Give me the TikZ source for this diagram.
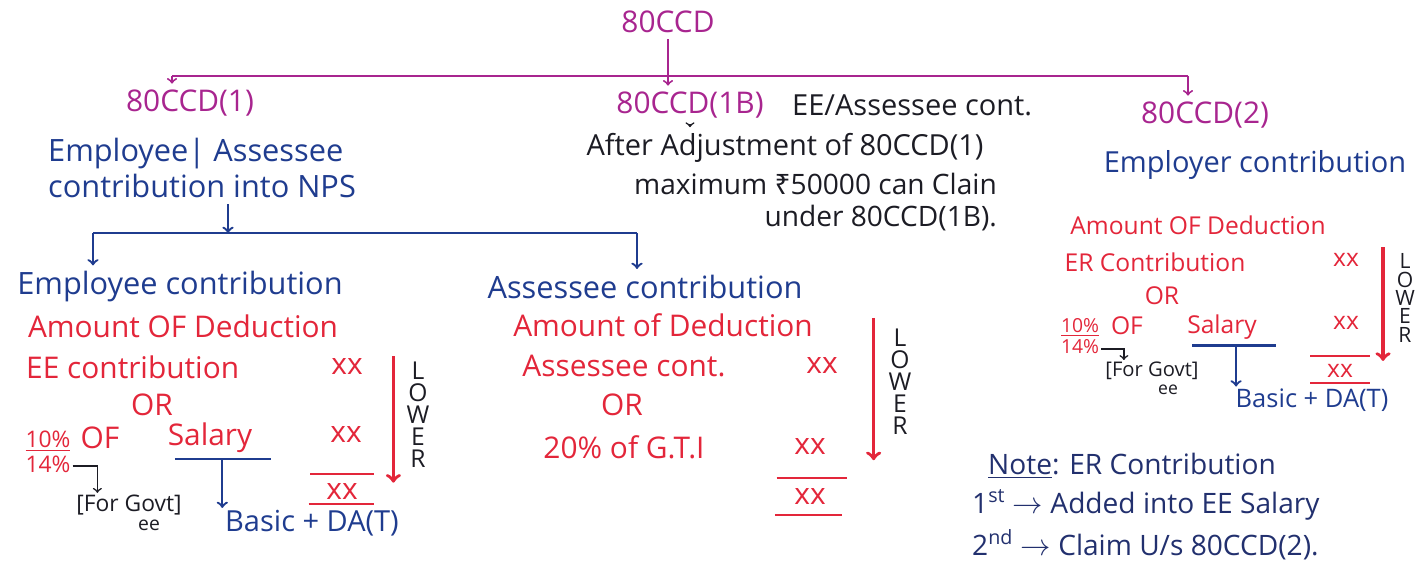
\documentclass[tikz,border=0pt]{standalone}
\usepackage{fontspec}
\setmainfont{Open Sans}
\newfontfamily\rupeefont{Noto Sans}
\usetikzlibrary{positioning}

\definecolor{sectpink}{HTML}{A8258F}
\definecolor{npsblue}{HTML}{1F3C8F}
\definecolor{dedred}{HTML}{E3263A}
\definecolor{inkblack}{HTML}{1C1C24}
\definecolor{noteblue}{HTML}{22306E}

\tikzset{
  sec/.style={text=sectpink, font=\fontsize{17}{20}\selectfont},
  head/.style={text=npsblue, font=\fontsize{17.5}{21}\selectfont},
  calc/.style={text=dedred, font=\fontsize{17}{20}\selectfont},
  calcsm/.style={text=dedred, font=\fontsize{14}{17}\selectfont},
  remark/.style={text=inkblack, font=\fontsize{16.5}{19}\selectfont},
  govt/.style={text=inkblack, font=\fontsize{13}{15}\selectfont, inner sep=1pt},
  lowword/.style={text=inkblack, align=center, font=\fontsize{14}{12.5}\selectfont},
  notetext/.style={text=noteblue, font=\fontsize{16}{19}\selectfont, anchor=west},
  pinkline/.style={color=sectpink, line width=1.1pt},
  blueline/.style={color=npsblue, line width=1.3pt},
  redline/.style={draw=dedred, line width=1.2pt},
  lowarrow/.style={draw=dedred, line width=2pt, ->}
}

\begin{document}
\begin{tikzpicture}[x=0.02cm, y=-0.02cm]
\useasboundingbox (0,0) rectangle (1428,567);

% sections
\node[sec] at (668,22) (ccd) {80CCD};
\node[sec] at (190,103) (ccdone) {80CCD(1)};
\node[sec] at (690,105) (ccdoneb) {80CCD(1B)};
\node[remark, anchor=west] at (786,105) (eecont) {EE/Assessee cont.};
\node[sec] at (1205,115) (ccdtwo) {80CCD(2)};

\coordinate (busL) at (172,76);
\coordinate (busR) at (1188,76);
\draw[pinkline] (busL) -- (busR);
\path[pinkline, ->]
    (ccd) edge (ccd |- ccdoneb.north)
    (busL) edge (busL |- ccdone.north)
    (busR) edge (busR |- ccdtwo.north);

% 80CCD(1)
\node[head, align=left, anchor=west] at (42,168) (nps) {Employee| Assessee\\contribution into NPS};
\coordinate (split) at (228,233);
\coordinate (bbusL) at (93,233);
\coordinate (bbusR) at (637,233);
\draw[blueline] (bbusL) -- (bbusR);
\draw[blueline, ->] (split |- nps.south) -- (split);

\node[head] at (180,287) (empc) {Employee contribution};
\node[head] at (645,287) (assc) {Assessee contribution};
\path[blueline, ->]
    (bbusL) edge (bbusL |- empc.north)
    (bbusR) edge (bbusR |- assc.north);

\node[calc] at (183,326) (amtone) {Amount OF Deduction};
\node[calc, anchor=west] at (20,367) (eec) {EE contribution};
\node[calc] at (347,367) (xaone) {xx};
\node[calc] at (152,405) (orone) {OR};
\node[calc, font=\fontsize{13}{14}\selectfont, align=center, inner sep=1pt] at (48,452) (fracone) {\underline{10\%}\\14\%};
\node[calc] at (100,438) (ofone) {OF};
\node[calc] at (210,438) (salone) {Salary};
\node[calc] at (346,435) (xbone) {xx};
\node[calc, inner sep=1pt] at (342,492) (xtone) {xx};
\draw[redline] ([xshift=-18pt,yshift=10pt]xtone.center) -- ([xshift=18pt,yshift=10pt]xtone.center);
\draw[redline] ([xshift=-19pt,yshift=-7pt]xtone.center) -- ([xshift=18pt,yshift=-7pt]xtone.center);
\node[govt] at (129,505) (govtone) {[For Govt]};
\node[govt, font=\fontsize{11}{12}\selectfont] at (149,525) (govteeone) {ee};
\node[head, inner sep=1pt, font=\fontsize{16.5}{19}\selectfont] at (312,523) (basicone) {Basic + DA(T)};
\draw[blueline] ([xshift=-20pt]salone.south) -- ([xshift=35pt]salone.south);
\draw[blueline, ->] ([xshift=7pt]salone.south) -- ([xshift=7pt]salone.south |- basicone.north);
\draw[inkblack, line width=0.9pt, ->] ([yshift=5pt]fracone.south east) -| ([xshift=-18pt]govtone.north);
\node[lowword] at (418,415) (lowone) {L\\O\\W\\E\\R};
\draw[lowarrow] ([xshift=-14pt]lowone.north) -- ([xshift=-14pt,yshift=-5pt]lowone.south);

% 80CCD(1B)
\node[remark] at (785,148) (adj) {After Adjustment of 80CCD(1)};
\node[remark, align=right, anchor=east, font=\fontsize{16}{18}\selectfont] at (1003,202) (maxm) {maximum {\rupeefont ₹}50000 can Clain\\under 80CCD(1B).};
\draw[inkblack, line width=0.9pt, ->] (ccdoneb.south) -- (ccdoneb.south |- adj.north);

\node[calc] at (663,325) (amttwo) {Amount of Deduction};
\node[calc] at (624,366) (asc) {Assessee cont.};
\node[calc] at (822,366) (xatwo) {xx};
\node[calc] at (622,405) (ortwo) {OR};
\node[calc] at (624,447) (gti) {20\% of G.T.I};
\node[calc] at (810,447) (xbtwo) {xx};
\node[calc] at (810,497) (xttwo) {xx};
\draw[redline] ([xshift=-19pt,yshift=11pt]xttwo.center) -- ([xshift=21pt,yshift=11pt]xttwo.center);
\draw[redline] ([xshift=-20pt,yshift=-10pt]xttwo.center) -- ([xshift=18pt,yshift=-10pt]xttwo.center);
\node[lowword] at (900,382) (lowtwo) {L\\O\\W\\E\\R};
\draw[lowarrow] ([xshift=-15pt,yshift=3pt]lowtwo.north) -- ([xshift=-15pt,yshift=-11pt]lowtwo.south);

% 80CCD(2)
\node[head, font=\fontsize{16.5}{20}\selectfont] at (1255,165) (emprc) {Employer contribution};
\node[calcsm] at (1198,225) (amtthree) {Amount OF Deduction};
\node[calcsm] at (1155,262) (erc) {ER Contribution};
\node[calcsm] at (1346,260) (xathree) {xx};
\node[calcsm] at (1162,296) (orthree) {OR};
\node[calcsm, font=\fontsize{11}{12}\selectfont, align=center, inner sep=1pt] at (1080,336) (fracthree) {\underline{10\%}\\14\%};
\node[calcsm] at (1127,326) (ofthree) {OF};
\node[calcsm] at (1222,327) (salthree) {Salary};
\node[calcsm] at (1346,323) (xbthree) {xx};
\node[calcsm, inner sep=1pt] at (1340,371) (xtthree) {xx};
\draw[redline] ([xshift=-17pt,yshift=8.5pt]xtthree.center) -- ([xshift=17pt,yshift=8.5pt]xtthree.center);
\draw[redline] ([xshift=-17pt,yshift=-7pt]xtthree.center) -- ([xshift=17pt,yshift=-7pt]xtthree.center);
\node[govt, font=\fontsize{11.5}{13}\selectfont] at (1152,371) (govtthree) {[For Govt]};
\node[govt, font=\fontsize{10}{11}\selectfont] at (1168,390) (govteethree) {ee};
\node[head, inner sep=1pt, font=\fontsize{14.5}{17}\selectfont] at (1312,400) (basicthree) {Basic + DA(T)};
\draw[blueline] ([xshift=-17pt]salthree.south) -- ([xshift=31pt]salthree.south);
\draw[blueline, ->] ([xshift=8pt]salthree.south) -- ([xshift=8pt]salthree.south |- basicthree.north);
\draw[inkblack, line width=0.9pt, ->] ([yshift=4pt]fracthree.south east) -| ([xshift=-16pt]govtthree.north);
\node[lowword, font=\fontsize{12}{10.5}\selectfont] at (1405,298) (lowthree) {L\\O\\W\\E\\R};
\draw[lowarrow] ([xshift=-12.5pt]lowthree.north) -- ([xshift=-12.5pt,yshift=-7pt]lowthree.south);

% note
\node[notetext] at (982,466) (note) {\underline{Note}: ER Contribution};
\node[notetext] at (966,505) (first) {1\textsuperscript{st} $\rightarrow$ Added into EE Salary};
\node[notetext] at (966,545) (second) {2\textsuperscript{nd} $\rightarrow$ Claim U/s 80CCD(2).};
\end{tikzpicture}
\end{document}
